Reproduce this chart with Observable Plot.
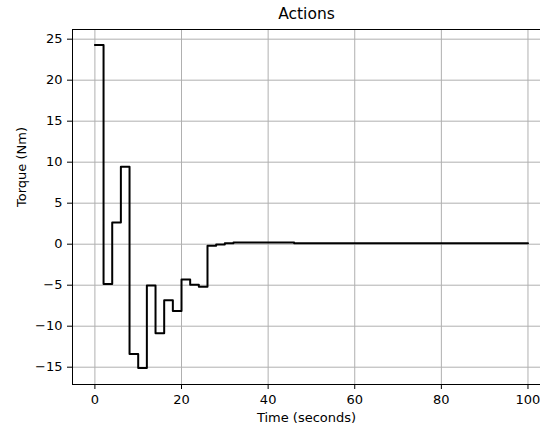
<!DOCTYPE html>
<html><head><meta charset="utf-8">
<script src="https://cdn.jsdelivr.net/npm/d3@7"></script>
<script src="https://cdn.jsdelivr.net/npm/@observablehq/plot@0.6"></script>
<style>body{margin:0;background:#fff} svg{display:block}</style>
</head><body><div id="chart"></div>
<script>
const times   = [0, 2, 4, 6, 8, 10, 12, 14, 16, 18, 20, 22, 24, 26, 28, 30, 32, 46, 100];
const torques = [24.3, -4.85, 2.65, 9.45, -13.4, -15.1, -5.05, -10.85, -6.85, -8.15, -4.3, -4.95, -5.2, -0.2, -0.05, 0.1, 0.2, 0.1, 0.1];
const xTicks = [0, 20, 40, 60, 80, 100];
const yTicks = [-15, -10, -5, 0, 5, 10, 15, 20, 25];
const title = "Actions";
const xLabel = "Time (seconds)";
const yLabel = "Torque (Nm)";

const data = times.map((t, i) => ({t, v: torques[i]}));
const xDomain = [-5.17, 102.89];
const yDomain = [-17.11, 26.18];

const chart = Plot.plot({
  width: 540, height: 429,
  marginLeft: 72, marginRight: 0, marginTop: 29, marginBottom: 45,
  style: {fontFamily: "DejaVu Sans", fontSize: "13px", background: "#fff", color: "#000"},
  x: {domain: xDomain},
  y: {domain: yDomain},
  marks: [
    Plot.gridX(xTicks, {stroke: "#b0b0b0", strokeOpacity: 1, strokeWidth: 1}),
    Plot.gridY(yTicks, {stroke: "#b0b0b0", strokeOpacity: 1, strokeWidth: 1}),
    Plot.line(data, {x: "t", y: "v", curve: "step-after", stroke: "#000", strokeWidth: 2}),
    Plot.ruleX([xDomain[0]], {stroke: "#000", strokeWidth: 1}),
    Plot.ruleY(yDomain, {stroke: "#000", strokeWidth: 1}),
    Plot.axisX(xTicks, {tickSize: 5, tickPadding: 5, label: null, fontSize: 13, tickFormat: d => d}),
    Plot.axisY(yTicks, {tickSize: 5, tickPadding: 5, label: null, fontSize: 13}),
    Plot.text([title], {frameAnchor: "top", lineAnchor: "middle", dy: -15, fontSize: 15.5, fill: "#000"}),
    Plot.text([xLabel], {frameAnchor: "bottom", lineAnchor: "middle", dy: 33, fontSize: 13, fill: "#000"}),
    Plot.text([yLabel], {frameAnchor: "left", lineAnchor: "middle", dx: -51, rotate: -90, fontSize: 13, fill: "#000"})
  ]
});
document.getElementById("chart").append(chart);
</script>
</body></html>
